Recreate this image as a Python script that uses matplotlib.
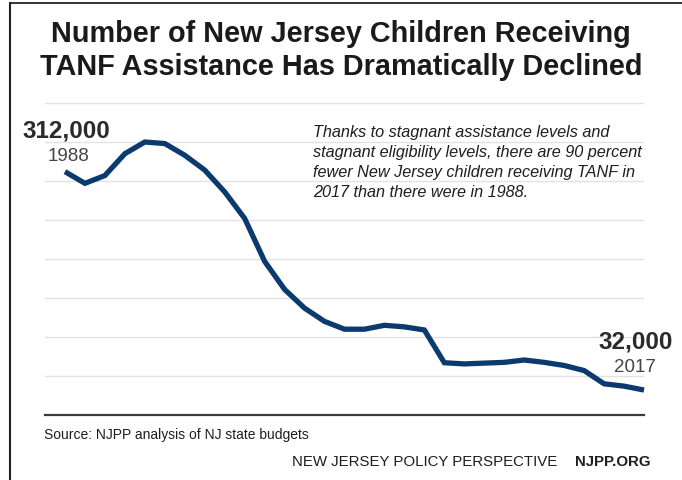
import matplotlib.pyplot as plt
from matplotlib.lines import Line2D

# data (children receiving TANF)
years = list(range(1988, 2018))
children = [312000, 297000, 307000, 335000, 350000, 348000, 333000, 314000, 286000, 252000,
            197000, 161000, 137000, 120000, 110000, 110000, 115000, 113000, 109000, 67000,
            65500, 66500, 67500, 70500, 67500, 63500, 57000, 40000, 37000, 32000]
grid_levels = list(range(0, 400001, 50000))

W, H = 682, 480
fig = plt.figure(figsize=(W / 100, H / 100), dpi=100)
fig.patch.set_facecolor("white")

# axes placed in pixel terms: x 45..644, baseline at y=415
ymax = 405000
px_per_unit = 39 / 50000
top_px = 415 - ymax * px_per_unit
ax = fig.add_axes([45 / W, (H - 415) / H, (644 - 45) / W, (415 - top_px) / H])
ax.set_xlim(1987, 2017)
ax.set_ylim(0, ymax)

for g in grid_levels[1:]:
    ax.axhline(g, color="#e2e2e2", lw=1.0, zorder=1)

ax.plot(years, children, color="#0b3a6f", lw=3.8, solid_joinstyle="miter",
        solid_capstyle="butt", zorder=3, clip_on=False)

for s in ["top", "right", "left"]:
    ax.spines[s].set_visible(False)
ax.spines["bottom"].set_color("#3a3a3a")
ax.spines["bottom"].set_linewidth(1.6)
ax.set_xticks([])
ax.set_yticks([])

font = "Liberation Sans"


def put(x, y, s, **kw):
    # x, y in pixels from top-left, y is the text baseline
    fig.text(x / W, 1 - y / H, s, va="baseline", family=font, **kw)


# title
put(341, 41.5, "Number of New Jersey Children Receiving", ha="center", fontsize=20.8,
    fontweight="bold", color="#1a1a1a")
put(341, 75, "TANF Assistance Has Dramatically Declined", ha="center", fontsize=20.8,
    fontweight="bold", color="#1a1a1a")

# end labels
put(22, 137.5, "312,000", ha="left", fontsize=17.5, fontweight="bold", color="#2b2b2b")
put(48, 161, "1988", ha="left", fontsize=13.5, color="#444444")
put(673, 348.5, "32,000", ha="right", fontsize=17.5, fontweight="bold", color="#2b2b2b")
put(656, 371.5, "2017", ha="right", fontsize=13.5, color="#444444")

# annotation
note = ["Thanks to stagnant assistance levels and",
        "stagnant eligibility levels, there are 90 percent",
        "fewer New Jersey children receiving TANF in",
        "2017 than there were in 1988."]
for i, line in enumerate(note):
    put(313, 137.5 + i * 19.7, line, ha="left", fontsize=11.7, style="italic", color="#1e1e1e")

# footer
put(44, 439.5, "Source: NJPP analysis of NJ state budgets", ha="left", fontsize=10,
    color="#1e1e1e")
put(292.5, 466, "NEW JERSEY POLICY PERSPECTIVE", ha="left", fontsize=10.8, color="#1e1e1e")
put(651, 466, "NJPP.ORG", ha="right", fontsize=10.8, fontweight="bold", color="#1e1e1e")

# frame lines (top and left only)
fig.add_artist(Line2D([10 / W, 1], [1 - 3 / H, 1 - 3 / H], color="#222222", lw=1.3))
fig.add_artist(Line2D([10 / W, 10 / W], [0, 1 - 3 / H], color="#222222", lw=1.5))

fig.savefig("out.png", dpi=100)
